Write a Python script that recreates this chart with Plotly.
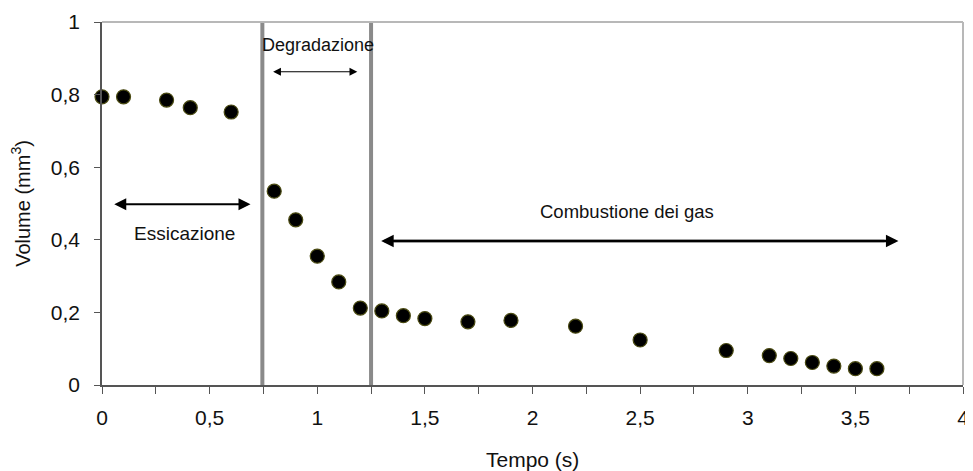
import plotly.graph_objects as go

# Data
tempo = [0, 0.1, 0.3, 0.41, 0.6, 0.8, 0.9, 1.0, 1.1, 1.2, 1.3, 1.4, 1.5, 1.7, 1.9,
         2.2, 2.5, 2.9, 3.1, 3.2, 3.3, 3.4, 3.5, 3.6]
volume = [0.794, 0.794, 0.785, 0.764, 0.752, 0.534, 0.455, 0.355, 0.284, 0.212, 0.204,
          0.191, 0.183, 0.174, 0.178, 0.162, 0.124, 0.095, 0.081, 0.073, 0.062, 0.052,
          0.045, 0.045]

phase_bounds = [0.745, 1.25]
phase_names = ["Essicazione", "Degradazione", "Combustione dei gas"]
phase_arrow_x = [(0.05, 0.69), (0.788, 1.186), (1.29, 3.70)]
phase_arrow_y = [0.498, 0.863, 0.397]
phase_label_xy = [(0.381, 0.416), (1.004, 0.937), (2.44, 0.478)]

x_ticks = [0, 0.5, 1, 1.5, 2, 2.5, 3, 3.5, 4]
x_minor = [0.25, 0.75, 1.25, 1.75, 2.25, 2.75, 3.25, 3.75]
y_ticks = [0, 0.2, 0.4, 0.6, 0.8, 1]

x_title = "Tempo (s)"
y_title = "Volume (mm<sup>3</sup>)"

FONT = "Liberation Sans, Arial, sans-serif"
TXT = "#111111"

fig = go.Figure()

# phase boundary lines
for xb in phase_bounds:
    fig.add_trace(go.Scatter(x=[xb, xb], y=[0, 1], mode="lines",
                             line=dict(color="#8a8a8a", width=4),
                             hoverinfo="skip", showlegend=False))

fig.add_trace(go.Scatter(
    x=tempo, y=volume, mode="markers", cliponaxis=False, showlegend=False,
    marker=dict(size=14, color="#000000", line=dict(color="#4a4a12", width=1.2)),
))

annotations = []
styles = [
    dict(arrowcolor="#000000", arrowwidth=2, arrowsize=1.2, arrowhead=2),
    dict(arrowcolor="#000000", arrowwidth=1.2, arrowsize=1.3, arrowhead=2),
    dict(arrowcolor="#000000", arrowwidth=2.5, arrowsize=1.0, arrowhead=2),
]
label_sizes = [19, 18, 18.5]
shapes = []
for i, (name, (x0, x1), ya, (lx, ly), st, fs) in enumerate(zip(
        phase_names, phase_arrow_x, phase_arrow_y, phase_label_xy, styles, label_sizes)):
    annotations.append(dict(x=x1, y=ya, ax=x0, ay=ya, xref="x", yref="y",
                            axref="x", ayref="y", text="", showarrow=True,
                            arrowside="end+start", standoff=0, startstandoff=0, **st))
    annotations.append(dict(x=lx, y=ly, xref="x", yref="y", text=name, showarrow=False,
                            font=dict(family=FONT, size=fs, color=TXT)))
    if i == 2:
        # gray shaft over the black arrow (heads stay black)
        head = 0.065
        shapes.append(dict(type="line", xref="x", yref="y", x0=x0 + head, x1=x1 - head,
                           y0=ya, y1=ya, line=dict(color="#5a5a5a", width=2.5)))

# x-axis title placed precisely below the tick labels
annotations.append(dict(x=0.5, y=-0.205, xref="paper", yref="paper", text=x_title,
                        showarrow=False, yanchor="middle",
                        font=dict(family=FONT, size=21, color=TXT)))

shapes += [
    dict(type="line", xref="paper", yref="paper", x0=0, x1=1, y0=1, y1=1,
         line=dict(color="#b8b8b8", width=2)),
    dict(type="line", xref="paper", yref="paper", x0=1, x1=1, y0=0, y1=1,
         line=dict(color="#b8b8b8", width=2)),
]

fig.update_layout(
    width=965, height=463,
    margin=dict(l=94, r=10, t=14, b=86),
    paper_bgcolor="white", plot_bgcolor="white",
    font=dict(family=FONT, color=TXT),
    annotations=annotations,
    shapes=shapes,
    xaxis=dict(
        range=[0, 4], tickvals=x_ticks, ticktext=[f"{v:g}".replace(".", ",") for v in x_ticks],
        automargin=False,
        showgrid=False, zeroline=False, showline=True, linecolor="#555555", linewidth=1.5,
        ticks="outside", ticklen=7, tickcolor="#555555", tickwidth=1.2,
        ticklabelstandoff=6,
        minor=dict(tickvals=x_minor, ticks="outside", ticklen=7,
                   tickcolor="#555555", tickwidth=1.2),
        tickfont=dict(size=21, family=FONT, color=TXT),
    ),
    yaxis=dict(
        range=[0, 1], tickvals=y_ticks, ticktext=[f"{v:g}".replace(".", ",") for v in y_ticks],
        automargin=False,
        showgrid=False, zeroline=False, showline=True, linecolor="#555555", linewidth=1.5,
        ticks="outside", ticklen=6, tickcolor="#555555", tickwidth=1.2,
        ticklabelstandoff=10,
        tickfont=dict(size=21, family=FONT, color=TXT),
        title=dict(text=y_title, font=dict(size=20, family=FONT, color=TXT)),
    ),
)

fig.write_html("out.html")
